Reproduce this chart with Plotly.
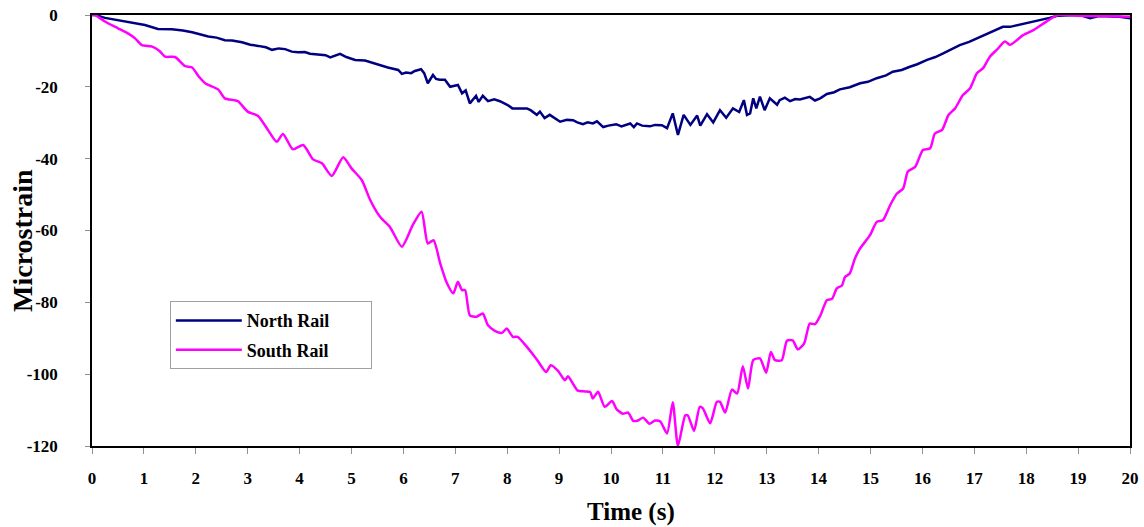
import plotly.graph_objects as go

# ---- data ----
t_north = [0, 0.06, 0.25, 0.5, 0.75, 1.02, 1.27, 1.54, 1.75, 1.93, 2.24, 2.4, 2.56, 2.7, 2.89, 3.05, 3.2, 3.35, 3.47, 3.6,
           3.72, 3.85, 3.97, 4.1, 4.2, 4.35, 4.5, 4.59, 4.7, 4.78, 4.9, 5.07, 5.26, 5.4, 5.51, 5.7, 5.9, 5.97, 6.05, 6.15,
           6.22, 6.34, 6.4, 6.47, 6.57, 6.63, 6.7, 6.8, 6.9, 6.98, 7.05, 7.13, 7.2, 7.28, 7.4, 7.45, 7.53, 7.63, 7.75, 7.86,
           8.0, 8.1, 8.25, 8.38, 8.45, 8.57, 8.63, 8.72, 8.82, 8.9, 9.02, 9.15, 9.27, 9.35, 9.46, 9.55, 9.65, 9.73, 9.85, 9.95,
           10.1, 10.2, 10.3, 10.37, 10.44, 10.5, 10.6, 10.75, 10.85, 10.98, 11.08, 11.19, 11.29, 11.4, 11.53, 11.66, 11.72, 11.85, 11.97, 12.1,
           12.22, 12.35, 12.47, 12.56, 12.62, 12.68, 12.74, 12.8, 12.87, 12.96, 13.06, 13.2, 13.25, 13.35, 13.45, 13.55, 13.64, 13.75, 13.83, 13.93,
           14.03, 14.16, 14.3, 14.41, 14.6, 14.8, 14.95, 15.12, 15.3, 15.43, 15.6, 15.76, 15.9, 16.09, 16.25, 16.4, 16.55, 16.72, 16.9, 17.05,
           17.2, 17.36, 17.55, 17.69, 17.85, 18.0, 18.15, 18.32, 18.45, 18.6, 18.98, 19.1, 19.23, 19.4, 19.6, 19.8, 20.0]
north = [0, 0, -0.8, -1.4, -2.0, -2.8, -3.9, -4.0, -4.3, -4.8, -6.0, -6.3, -7.0, -7.1, -7.6, -8.3, -8.6, -9.0, -9.7, -9.3,
         -9.5, -10.2, -10.4, -10.3, -10.8, -10.9, -11.2, -11.8, -11.3, -10.8, -11.7, -12.5, -12.7, -13.3, -13.9, -14.6, -15.3, -16.4, -16.0, -16.2,
         -15.6, -15.1, -16.2, -19.0, -16.7, -17.8, -18.0, -18.0, -20.0, -19.8, -19.5, -21.8, -21.0, -24.6, -22.5, -24.2, -22.5, -24.0, -23.5, -24.0,
         -25.0, -26.0, -26.0, -26.0, -26.5, -27.8, -26.9, -28.7, -27.8, -28.5, -29.7, -29.2, -29.3, -29.9, -30.4, -29.9, -30.2, -29.6, -31.2, -30.8,
         -30.4, -31.0, -30.5, -30.2, -31.2, -30.2, -30.8, -31.0, -30.6, -30.7, -31.5, -27.4, -33.4, -27.8, -30.6, -28.0, -30.8, -27.6, -29.9, -26.5,
         -28.6, -26.0, -27.0, -23.7, -27.8, -27.4, -23.2, -26.0, -22.7, -26.5, -23.2, -25.0, -23.7, -23.0, -24.0, -23.4, -23.5, -23.0, -22.8, -23.8,
         -23.2, -22.0, -21.5, -20.7, -20.1, -19.0, -18.6, -17.6, -16.8, -15.8, -15.3, -14.4, -13.7, -12.5, -11.7, -10.7, -9.6, -8.4, -7.5, -6.5,
         -5.6, -4.4, -3.3, -3.3, -2.8, -2.3, -1.8, -1.2, -0.8, -0.2, 0.0, -0.3, -0.9, -0.3, -0.3, -0.5, -0.9]

t_south = [0, 0.06, 0.25, 0.5, 0.7, 0.83, 0.96, 1.16, 1.3, 1.41, 1.6, 1.79, 1.93, 2.05, 2.18, 2.43, 2.56, 2.81, 3.0, 3.2,
           3.39, 3.56, 3.68, 3.87, 4.07, 4.26, 4.43, 4.62, 4.84, 5.0, 5.2, 5.36, 5.55, 5.74, 5.97, 6.18, 6.35, 6.47, 6.58, 6.71,
           6.84, 6.96, 7.05, 7.13, 7.19, 7.28, 7.41, 7.53, 7.63, 7.77, 7.9, 7.99, 8.11, 8.2, 8.38, 8.57, 8.75, 8.84, 8.98, 9.11,
           9.17, 9.36, 9.5, 9.6, 9.65, 9.75, 9.88, 10.02, 10.11, 10.23, 10.33, 10.43, 10.52, 10.62, 10.74, 10.85, 10.95, 11.08, 11.19, 11.29,
           11.43, 11.48, 11.6, 11.71, 11.77, 11.91, 12.04, 12.1, 12.2, 12.33, 12.43, 12.54, 12.64, 12.74, 12.87, 12.99, 13.08, 13.16, 13.29, 13.39,
           13.5, 13.6, 13.72, 13.83, 13.93, 14.03, 14.16, 14.26, 14.35, 14.45, 14.51, 14.6, 14.7, 14.8, 14.99, 15.12, 15.24, 15.38, 15.51, 15.63,
           15.72, 15.86, 16.01, 16.15, 16.24, 16.38, 16.5, 16.63, 16.78, 16.92, 17.05, 17.17, 17.3, 17.44, 17.59, 17.69, 17.82, 17.94, 18.14, 18.32,
           18.49, 18.61, 19.0, 19.5, 20.0]
south = [0, 0, -1.8, -3.7, -5.2, -6.5, -8.4, -8.8, -10.0, -11.6, -11.7, -14.2, -14.6, -17.0, -19.0, -20.7, -23.2, -24.0, -26.9, -28.1,
         -32.0, -35.3, -33.1, -37.4, -36.2, -40.2, -41.3, -44.8, -39.6, -42.7, -46.0, -51.5, -56.2, -59.0, -64.5, -58.5, -54.8, -63.6, -62.7, -69.2,
         -74.7, -77.5, -74.3, -76.6, -76.6, -83.6, -84.0, -83.1, -86.4, -88.0, -88.5, -87.3, -89.6, -89.6, -92.4, -95.9, -99.4, -97.5, -99.1, -101.7,
         -100.6, -104.6, -104.8, -105.0, -106.8, -104.9, -109.1, -107.5, -109.8, -111.0, -110.7, -113.0, -112.9, -112.1, -113.8, -112.9, -113.2, -116.5, -107.8, -120.0,
         -111.5, -111.5, -115.8, -109.1, -109.5, -113.7, -107.7, -107.7, -110.7, -104.3, -105.4, -97.8, -104.0, -96.1, -95.6, -99.6, -93.8, -96.1, -96.1, -90.7,
         -90.6, -93.1, -91.5, -85.9, -86.1, -83.8, -79.4, -79.0, -76.1, -75.3, -72.9, -72.0, -67.8, -65.0, -61.3, -57.6, -57.1, -52.9, -49.7, -48.3,
         -43.6, -42.3, -37.6, -37.1, -33.0, -32.0, -27.9, -26.0, -22.3, -20.4, -16.2, -14.8, -11.6, -9.6, -7.4, -8.3, -7.0, -5.6, -4.2, -2.5,
         -0.9, 0.0, -0.2, -0.3, -0.5]

x_ticks = list(range(0, 21))
y_ticks = [0, -20, -40, -60, -80, -100, -120]
series_names = ["North Rail" + "\u00a0" * 8, "South Rail" + "\u00a0" * 8]
x_title = "Time (s)"
y_title = "Microstrain"

FONT = "Liberation Serif, Times New Roman, serif"

fig = go.Figure()
fig.add_trace(go.Scatter(x=t_north, y=north, mode="lines", name=series_names[0], legendgroup="n",
                         line=dict(color="#000080", width=2.5)))
fig.add_trace(go.Scatter(x=t_south, y=south, mode="lines", name=series_names[1], legendgroup="s",
                         line=dict(color="#FF00FF", width=2.5, shape="spline", smoothing=0.6)))

fig.update_layout(
    width=1144, height=527,
    margin=dict(l=92, r=14, t=15, b=81, autoexpand=False),
    paper_bgcolor="white", plot_bgcolor="white",
    font=dict(family=FONT, size=16, color="black", weight="bold"),
    showlegend=True,
    legend=dict(x=0.075, y=0.336, xanchor="left", yanchor="top",
                bgcolor="white", bordercolor="#a0a0a0", borderwidth=1,
                font=dict(family=FONT, size=18, color="black", weight="bold"),
                tracegroupgap=3, itemwidth=66),
    xaxis=dict(range=[0, 20], tickvals=x_ticks, ticktext=[str(v) for v in x_ticks],
               automargin=False, ticklabeloverflow="allow",
               showgrid=False, zeroline=False, showline=True, linecolor="black", linewidth=1.5,
               mirror=True, ticks="outside", ticklen=6, tickcolor="#909090", tickwidth=1,
               ticklabelstandoff=10,
               tickfont=dict(family=FONT, size=17, color="black", weight="bold")),
    yaxis=dict(range=[-120, 0], tickvals=y_ticks, ticktext=[str(v) for v in y_ticks],
               automargin=False, ticklabeloverflow="allow",
               showgrid=False, zeroline=False, showline=True, linecolor="black", linewidth=1.5,
               mirror=True, ticks="outside", ticklen=5, tickcolor="#909090", tickwidth=1,
               ticklabelstandoff=24,
               tickfont=dict(family=FONT, size=17, color="black", weight="bold")),
    annotations=[
        dict(text=x_title, xref="paper", yref="paper", x=0.519, y=-0.153, xanchor="center", yanchor="middle",
             showarrow=False, font=dict(family=FONT, size=25, color="black", weight="bold")),
        dict(text=y_title, xref="paper", yref="paper", x=-0.0665, y=0.478, xanchor="center", yanchor="middle",
             textangle=-90, showarrow=False, font=dict(family=FONT, size=28, color="black", weight="bold")),
    ],
)

# remove the default 8px page margin so the figure fills the 1144x527 window exactly
fig.write_html("out.html", config={"displayModeBar": False},
               post_script="document.body.style.margin='0';document.body.style.overflow='hidden';")
